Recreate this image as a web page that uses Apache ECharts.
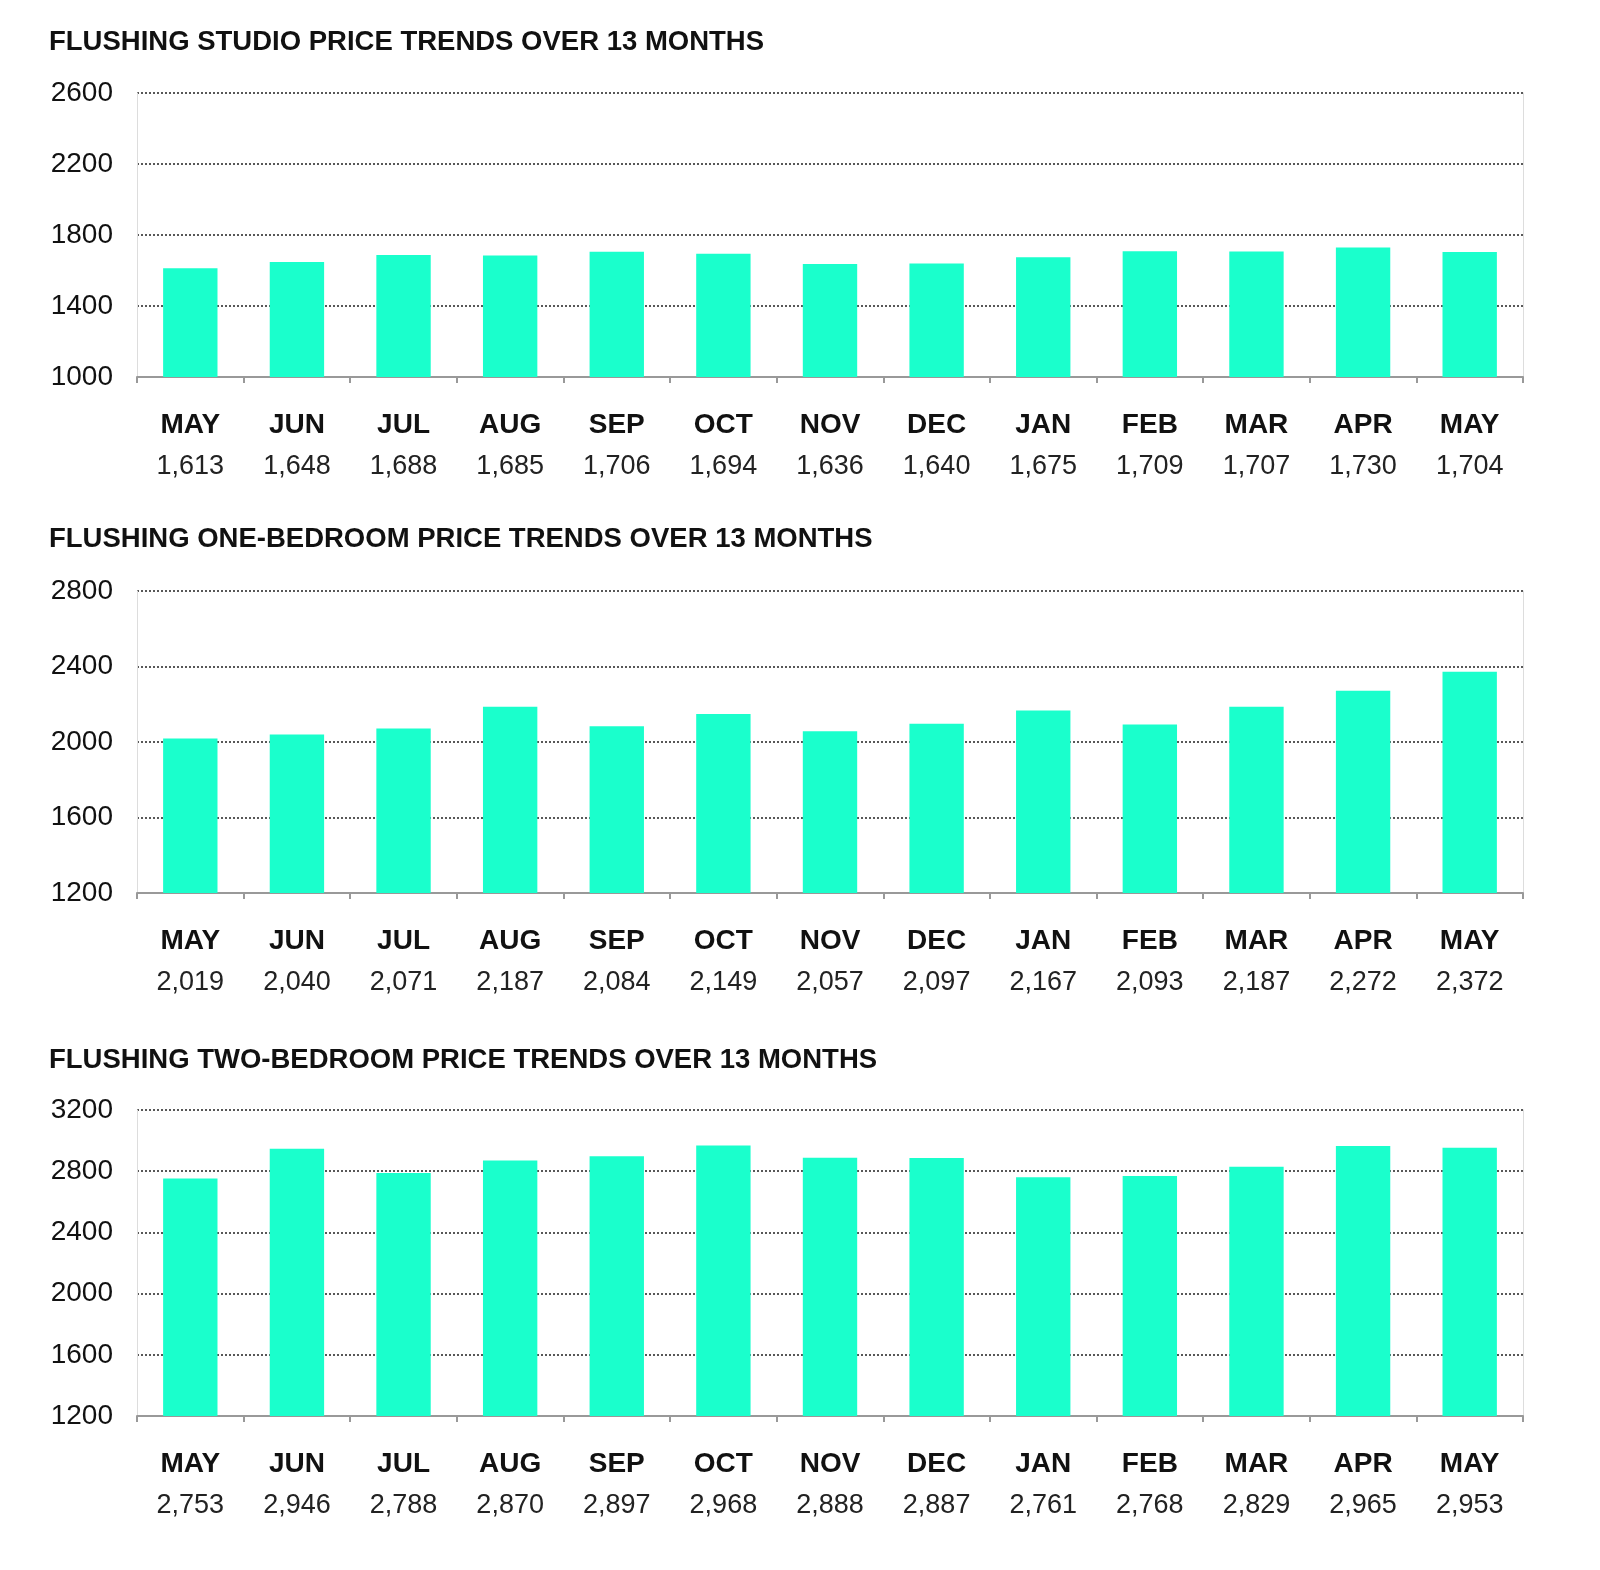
<!DOCTYPE html>
<html><head><meta charset="utf-8">
<script src="https://cdn.jsdelivr.net/npm/echarts@6/dist/echarts.min.js"></script>
<style>html,body{margin:0;padding:0;background:#fff}#c{width:1600px;height:1570px}</style>
</head><body><div id="c"></div>
<script>
const months = ['MAY','JUN','JUL','AUG','SEP','OCT','NOV','DEC','JAN','FEB','MAR','APR','MAY'];
const studio = [1613,1648,1688,1685,1706,1694,1636,1640,1675,1709,1707,1730,1704];
const oneBed = [2019,2040,2071,2187,2084,2149,2057,2097,2167,2093,2187,2272,2372];
const twoBed = [2753,2946,2788,2870,2897,2968,2888,2887,2761,2768,2829,2965,2953];
const titles = ['FLUSHING STUDIO PRICE TRENDS OVER 13 MONTHS','FLUSHING ONE-BEDROOM PRICE TRENDS OVER 13 MONTHS','FLUSHING TWO-BEDROOM PRICE TRENDS OVER 13 MONTHS'];
const yMin = [1000,1200,1200];
const yMax = [2600,2800,3200];
const yInterval = [400,400,400];
const seriesData = [studio, oneBed, twoBed];

const FONT = 'Liberation Sans, Arial, sans-serif';
const gridPos = [{top:93,height:284},{top:591,height:302},{top:1110,height:306}];
const titleTop = [28,525,1046];
const fmt = v => v.toLocaleString('en-US');

const option = {
  animation:false,
  backgroundColor:'#fff',
  title: titles.map((t,i)=>({text:t,left:49,top:titleTop[i],padding:0,textStyle:{fontFamily:FONT,fontSize:27.5,fontWeight:'bold',color:'#111'}})),
  grid: gridPos.map(g=>({left:137,right:77,top:g.top,height:g.height})),
  xAxis: seriesData.map((d,i)=>({
    type:'category',gridIndex:i,data:months,
    axisLine:{lineStyle:{color:'#999',width:2}},
    axisTick:{show:true,length:6,lineStyle:{color:'#999',width:2}},
    axisLabel:{margin:28,interval:0,fontFamily:FONT,
      formatter:(val,idx)=>'{m|'+val+'}\n{v|'+fmt(d[idx])+'}',
      rich:{m:{fontFamily:FONT,fontSize:28,fontWeight:'bold',color:'#111',lineHeight:41},
            v:{fontFamily:FONT,fontSize:27,color:'#222',lineHeight:41}}}
  })),
  yAxis: [].concat(...seriesData.map((d,i)=>[
    {type:'value',gridIndex:i,min:yMin[i],max:yMax[i],interval:yInterval[i],
     axisLine:{show:true,lineStyle:{color:'#ddd',width:1}},axisTick:{show:false},
     axisLabel:{margin:24,fontFamily:FONT,fontSize:28,color:'#111',formatter:v=>String(v)},
     splitLine:{show:true,lineStyle:{color:'#222',type:[2,2],width:1.5}}},
    {type:'value',gridIndex:i,position:'right',min:yMin[i],max:yMax[i],interval:yInterval[i],
     axisLine:{show:true,lineStyle:{color:'#ddd',width:1}},axisTick:{show:false},
     axisLabel:{show:false},splitLine:{show:false}}
  ])),
  series: seriesData.map((d,i)=>({
    type:'bar',xAxisIndex:i,yAxisIndex:i*2,data:d,barWidth:'51%',
    itemStyle:{color:'#1affcc'}
  }))
};
echarts.init(document.getElementById('c')).setOption(option);
</script></body></html>
